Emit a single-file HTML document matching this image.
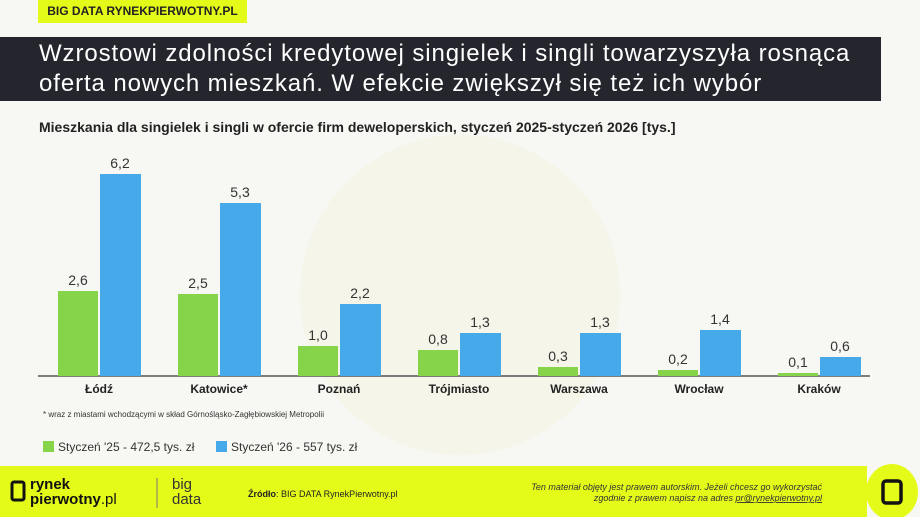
<!DOCTYPE html>
<html><head><meta charset="utf-8"><style>
body{margin:0;width:920px;height:517px;background:#f7f7f3;font-family:"Liberation Sans",sans-serif;overflow:hidden;position:relative}
.a{position:absolute}
</style></head><body>
<div class="a" style="left:38px;top:0;width:209px;height:23px;background:#e4fb1a;font-weight:bold;font-size:12px;line-height:23px;text-align:center;color:#222">BIG DATA RYNEKPIERWOTNY.PL</div>
<div class="a" style="left:0;top:37px;width:881px;height:64px;background:#24252d"></div>
<div class="a" style="left:39px;top:39px;color:#fff;font-size:24px;letter-spacing:0.9px;line-height:30px;white-space:nowrap">Wzrostowi zdolności kredytowej singielek i singli towarzyszyła rosnąca<br>oferta nowych mieszkań. W efekcie zwiększył się też ich wybór</div>
<div class="a" style="left:39px;top:119px;font-size:14px;font-weight:bold;color:#222;white-space:nowrap">Mieszkania dla singielek i singli w ofercie firm deweloperskich, styczeń 2025-styczeń 2026 [tys.]</div>
<div class="a" style="left:300px;top:135px;width:320px;height:320px;border-radius:50%;background:#f4f4e2;opacity:.6"></div>
<svg class="a" style="left:0;top:0" width="920" height="517" font-family="Liberation Sans, sans-serif">
<line x1="38" y1="376" x2="870" y2="376" stroke="#555" stroke-width="1.5"/>
<g font-size="14" fill="#333" text-anchor="middle">
<rect x="58" y="291" width="40" height="85" fill="#86d44a"/><rect x="100" y="174" width="41" height="202" fill="#46a9ea"/>
<text x="78" y="285">2,6</text><text x="120" y="168">6,2</text>
<rect x="178" y="294" width="40" height="82" fill="#86d44a"/><rect x="220" y="203" width="41" height="173" fill="#46a9ea"/>
<text x="198" y="288">2,5</text><text x="240" y="197">5,3</text>
<rect x="298" y="346" width="40" height="30" fill="#86d44a"/><rect x="340" y="304" width="41" height="72" fill="#46a9ea"/>
<text x="318" y="340">1,0</text><text x="360" y="298">2,2</text>
<rect x="418" y="350" width="40" height="26" fill="#86d44a"/><rect x="460" y="333" width="41" height="43" fill="#46a9ea"/>
<text x="438" y="344">0,8</text><text x="480" y="327">1,3</text>
<rect x="538" y="367" width="40" height="9" fill="#86d44a"/><rect x="580" y="333" width="41" height="43" fill="#46a9ea"/>
<text x="558" y="361">0,3</text><text x="600" y="327">1,3</text>
<rect x="658" y="370" width="40" height="6" fill="#86d44a"/><rect x="700" y="330" width="41" height="46" fill="#46a9ea"/>
<text x="678" y="364">0,2</text><text x="720" y="324">1,4</text>
<rect x="778" y="373" width="40" height="3" fill="#86d44a"/><rect x="820" y="357" width="41" height="19" fill="#46a9ea"/>
<text x="798" y="367">0,1</text><text x="840" y="351">0,6</text>
</g>
<g font-size="12" font-weight="bold" fill="#222" text-anchor="middle">
<text x="99" y="393">Łódź</text><text x="219" y="393">Katowice*</text><text x="339" y="393">Poznań</text><text x="459" y="393">Trójmiasto</text><text x="579" y="393">Warszawa</text><text x="699" y="393">Wrocław</text><text x="819" y="393">Kraków</text>
</g>
<text x="43" y="417" font-size="8" fill="#333">* wraz z miastami wchodzącymi w skład Górnośląsko-Zagłębiowskiej Metropolii</text>
<rect x="43" y="441" width="11" height="11" fill="#86d44a"/><text x="58" y="451" font-size="12" fill="#333">Styczeń '25 - 472,5 tys. zł</text>
<rect x="216" y="441" width="11" height="11" fill="#46a9ea"/><text x="231" y="451" font-size="12" fill="#333">Styczeń '26 - 557 tys. zł</text>
<rect x="0" y="466" width="867" height="51" fill="#e4fb1a"/>
<ellipse cx="892" cy="492" rx="26" ry="28" fill="#e4fb1a"/>
<rect x="883" y="481" width="18" height="22" rx="3" fill="none" stroke="#111" stroke-width="3.5"/>
<rect x="12" y="482" width="12" height="18" rx="2" fill="none" stroke="#111" stroke-width="3"/>
<text x="30" y="489" font-size="15" font-weight="bold" fill="#111">rynek</text>
<text x="30" y="504" font-size="15" font-weight="bold" fill="#111">pierwotny<tspan font-weight="normal">.pl</tspan></text>
<line x1="157" y1="478" x2="157" y2="508" stroke="#777"/>
<text x="172" y="489" font-size="15" fill="#333">big</text><text x="172" y="504" font-size="15" fill="#333">data</text>
<text x="248" y="497" font-size="9" fill="#222"><tspan font-weight="bold">Źródło</tspan>: BIG DATA RynekPierwotny.pl</text>
<text x="822" y="490" font-size="9" font-style="italic" fill="#333" text-anchor="end">Ten materiał objęty jest prawem autorskim. Jeżeli chcesz go wykorzystać</text>
<text x="822" y="501" font-size="9" font-style="italic" fill="#333" text-anchor="end">zgodnie z prawem napisz na adres <tspan text-decoration="underline">pr@rynekpierwotny.pl</tspan></text>
</svg>
</body></html>
